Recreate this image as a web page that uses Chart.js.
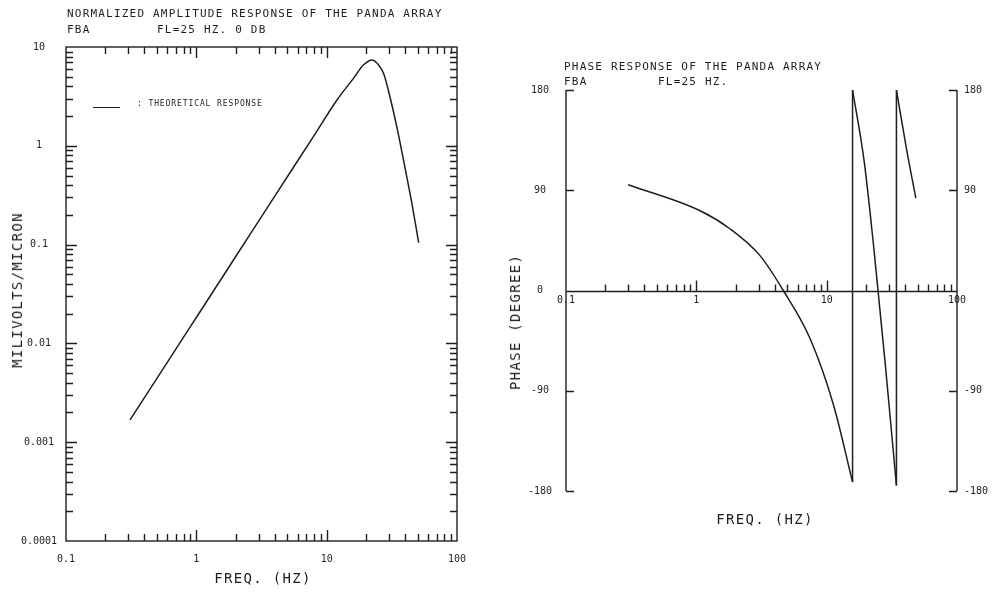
<!DOCTYPE html>
<html><head><meta charset="utf-8">
<script src="https://cdn.jsdelivr.net/npm/chart.js@4.4.1/dist/chart.umd.min.js"></script>
<style>
html,body{margin:0;padding:0;background:#fff;width:994px;height:596px;overflow:hidden;}
.t{position:absolute;font-family:"DejaVu Sans Mono",monospace;color:#1e1e1e;white-space:pre;line-height:1;}
.ttl{font-size:11px;letter-spacing:1.2px;transform:translateY(-50%);}
.ax{font-size:14px;letter-spacing:1.3px;}
.lg{font-size:8px;letter-spacing:0.9px;transform:translateY(-50%);}
canvas{position:absolute;top:0;}
</style></head><body>
<canvas id="amp" width="490" height="596" style="left:0"></canvas>
<canvas id="phs" width="504" height="596" style="left:490px"></canvas>

<div class="t ttl" style="left:67px;top:13px">NORMALIZED AMPLITUDE RESPONSE OF THE PANDA ARRAY</div>
<div class="t ttl" style="left:67px;top:29px">FBA</div>
<div class="t ttl" style="left:157px;top:29px">FL=25 HZ. 0 DB</div>
<div class="t ax" style="left:17px;top:290px;transform:translate(-50%,-50%) rotate(-90deg)">MILIVOLTS/MICRON</div>
<div class="t ax" style="left:263px;top:578px;transform:translate(-50%,-50%)">FREQ. (HZ)</div>
<div style="position:absolute;left:93px;top:107px;width:27px;height:0;border-top:1.4px solid #1e1e1e"></div>
<div class="t lg" style="left:137px;top:104px">: THEORETICAL RESPONSE</div>

<div class="t ttl" style="left:564px;top:66px">PHASE RESPONSE OF THE PANDA ARRAY</div>
<div class="t ttl" style="left:564px;top:81px">FBA</div>
<div class="t ttl" style="left:658px;top:81px">FL=25 HZ.</div>
<div class="t ax" style="left:515px;top:322px;transform:translate(-50%,-50%) rotate(-90deg)">PHASE (DEGREE)</div>
<div class="t ax" style="left:765px;top:519px;transform:translate(-50%,-50%)">FREQ. (HZ)</div>

<script>
// ---------- data ----------
// amplitude response (mV/micron) vs frequency (Hz)
const ampFreq  = [0.31, 0.5, 1, 2, 4, 8, 12, 16, 19.2, 22.3, 25, 27.4, 31, 34.7, 39, 45, 50.8];
const ampValue = [0.00168, 0.00445, 0.0183, 0.0753, 0.31, 1.27, 2.91, 4.79, 6.6, 7.4, 6.6, 5.35, 2.91, 1.51, 0.70, 0.264, 0.105];

// phase response (degrees), three branches wrapped at +/-180
const branch1Freq  = [0.30, 1.07, 1.82, 3.08, 4.65, 7.47, 11.3, 15.8];
const branch1Phase = [95, 71.6, 55.2, 31.3, 0, -43.3, -103, -172];
const branch2Freq  = [15.8, 19.4, 23.1, 28.1, 34.3];
const branch2Phase = [180, 116, 36, -65, -175];
const branch3Freq  = [34.3, 41, 48.3];
const branch3Phase = [180, 127, 83];
// phase wraps (vertical jumps)
const wrapFreq = [15.8, 34.3];
const wrapFrom = [-172, -175];
const wrapTo   = [180, 180];

const freqTicks       = [0.1, 1, 10, 100];
const freqTickLabels  = ['0.1', '1', '10', '100'];
const ampTicks        = [0.0001, 0.001, 0.01, 0.1, 1, 10];
const ampTickLabels   = ['0.0001', '0.001', '0.01', '0.1', '1', '10'];
const phaseTicks      = [-180, -90, 0, 90, 180];
const phaseTickLabels = ['-180', '-90', '0', '90', '180'];

// ---------- styling ----------
const INK = '#1e1e1e';
const tickFont = {family: 'DejaVu Sans Mono', size: 10};

function logTickValues(min, max) {
  const out = [];
  const e0 = Math.round(Math.log10(min)), e1 = Math.round(Math.log10(max));
  for (let e = e0; e < e1; e++) {
    for (let m = 1; m < 10; m++) {
      if (e === e0 && m === 1) continue;
      out.push({v: m * Math.pow(10, e), major: m === 1});
    }
  }
  return out;
}

const ampFrame = {
  id: 'ampFrame',
  afterDraw(chart) {
    const {ctx, chartArea: a, scales: {x, y}} = chart;
    ctx.save();
    ctx.strokeStyle = INK; ctx.lineWidth = 1.4;
    ctx.strokeRect(a.left, a.top, a.right - a.left, a.bottom - a.top);
    ctx.beginPath();
    for (const t of logTickValues(x.min, x.max)) {
      const p = Math.round(x.getPixelForValue(t.v)) + 0.5, L = t.major ? 11 : 7;
      ctx.moveTo(p, a.bottom); ctx.lineTo(p, a.bottom - L);
      ctx.moveTo(p, a.top); ctx.lineTo(p, a.top + L);
    }
    for (const t of logTickValues(y.min, y.max)) {
      const p = Math.round(y.getPixelForValue(t.v)) + 0.5, L = t.major ? 11 : 7;
      ctx.moveTo(a.left, p); ctx.lineTo(a.left + L, p);
      ctx.moveTo(a.right, p); ctx.lineTo(a.right - L, p);
    }
    ctx.stroke();
    ctx.restore();
  }
};

const phsFrame = {
  id: 'phsFrame',
  afterDraw(chart) {
    const {ctx, chartArea: a, scales: {x, y}} = chart;
    ctx.save();
    ctx.strokeStyle = INK; ctx.lineWidth = 1.4;
    ctx.beginPath();
    const y0 = Math.round(y.getPixelForValue(0)) + 0.5;
    ctx.moveTo(a.left, y0); ctx.lineTo(a.right, y0);
    for (const t of logTickValues(x.min, x.max)) {
      const p = Math.round(x.getPixelForValue(t.v)) + 0.5, L = t.major ? 11 : 7;
      ctx.moveTo(p, y0); ctx.lineTo(p, y0 - L);
    }
    ctx.moveTo(a.left, a.top); ctx.lineTo(a.left, a.bottom);
    ctx.moveTo(a.right, a.top); ctx.lineTo(a.right, a.bottom);
    for (const v of phaseTicks) {
      if (v === 0) continue;
      const p = Math.round(y.getPixelForValue(v)) + 0.5;
      ctx.moveTo(a.left, p); ctx.lineTo(a.left + 8, p);
      ctx.moveTo(a.right, p); ctx.lineTo(a.right - 8, p);
    }
    ctx.stroke();
    ctx.restore();
  }
};

function setTicks(values) {
  return function (scale) { scale.ticks = values.map(v => ({value: v})); };
}
function labelFrom(labels) {
  return function (value, index) { return labels[index]; };
}
function pts(xs, ys) { return xs.map((f, i) => ({x: f, y: ys[i]})); }
function curve(label, data, mode) {
  return {label, data, showLine: true, borderColor: INK, borderWidth: 1.5, pointRadius: 0,
          cubicInterpolationMode: mode, tension: mode === 'monotone' ? 0.4 : 0, spanGaps: false};
}

Chart.defaults.font.family = 'DejaVu Sans Mono';
Chart.defaults.color = INK;

new Chart(document.getElementById('amp'), {
  type: 'scatter',
  data: {datasets: [curve('THEORETICAL RESPONSE', pts(ampFreq, ampValue), 'monotone')]},
  options: {
    responsive: false, devicePixelRatio: 1, animation: false,
    layout: {padding: {top: 47, right: 33, bottom: 25, left: 0}},
    plugins: {legend: {display: false}, tooltip: {enabled: false}},
    scales: {
      x: {
        type: 'logarithmic', min: 0.1, max: 100, position: 'bottom',
        grid: {display: false, drawTicks: false}, border: {display: false},
        afterBuildTicks: setTicks(freqTicks),
        afterFit(s) { s.height = 30; },
        ticks: {font: tickFont, color: INK, padding: 12, autoSkip: false, maxRotation: 0, callback: labelFrom(freqTickLabels)}
      },
      y: {
        type: 'logarithmic', min: 0.0001, max: 10, position: 'left',
        grid: {display: false, drawTicks: false}, border: {display: false},
        afterBuildTicks: setTicks(ampTicks),
        afterFit(s) { s.width = 66; },
        ticks: {font: tickFont, color: INK, padding: 9, crossAlign: 'center', autoSkip: false, callback: labelFrom(ampTickLabels)}
      }
    }
  },
  plugins: [ampFrame]
});

const wrapData = [];
wrapFreq.forEach((f, i) => {
  if (i > 0) wrapData.push({x: f, y: null});
  wrapData.push({x: f, y: wrapFrom[i]}, {x: f, y: wrapTo[i]});
});

new Chart(document.getElementById('phs'), {
  type: 'scatter',
  data: {
    datasets: [
      curve('PHASE 1', pts(branch1Freq, branch1Phase), 'monotone'),
      curve('PHASE 2', pts(branch2Freq, branch2Phase), 'monotone'),
      curve('PHASE 3', pts(branch3Freq, branch3Phase), 'monotone'),
      curve('WRAP', wrapData, 'default')
    ]
  },
  options: {
    responsive: false, devicePixelRatio: 1, animation: false,
    layout: {padding: {top: 90, right: 0, bottom: 105, left: 0}},
    plugins: {legend: {display: false}, tooltip: {enabled: false}},
    scales: {
      x: {
        type: 'logarithmic', min: 0.1, max: 100, position: {y: 0},
        grid: {display: false, drawTicks: false}, border: {display: false},
        afterBuildTicks: setTicks(freqTicks),
        ticks: {font: tickFont, color: INK, padding: 4, autoSkip: false, maxRotation: 0, callback: labelFrom(freqTickLabels)}
      },
      y: {
        type: 'linear', min: -180, max: 180, position: 'left',
        grid: {display: false, drawTicks: false}, border: {display: false},
        afterBuildTicks: setTicks(phaseTicks),
        afterFit(s) { s.width = 76; },
        ticks: {font: tickFont, color: INK, padding: 14, crossAlign: 'center', autoSkip: false, callback: labelFrom(phaseTickLabels)}
      },
      y2: {
        type: 'linear', min: -180, max: 180, position: 'right',
        grid: {display: false, drawTicks: false}, border: {display: false},
        afterBuildTicks: setTicks(phaseTicks.filter(v => v !== 0)),
        afterFit(s) { s.width = 37; },
        ticks: {font: tickFont, color: INK, padding: 7, crossAlign: 'near', autoSkip: false,
                callback: labelFrom(phaseTickLabels.filter(l => l !== '0'))}
      }
    }
  },
  plugins: [phsFrame]
});
</script>
</body></html>
